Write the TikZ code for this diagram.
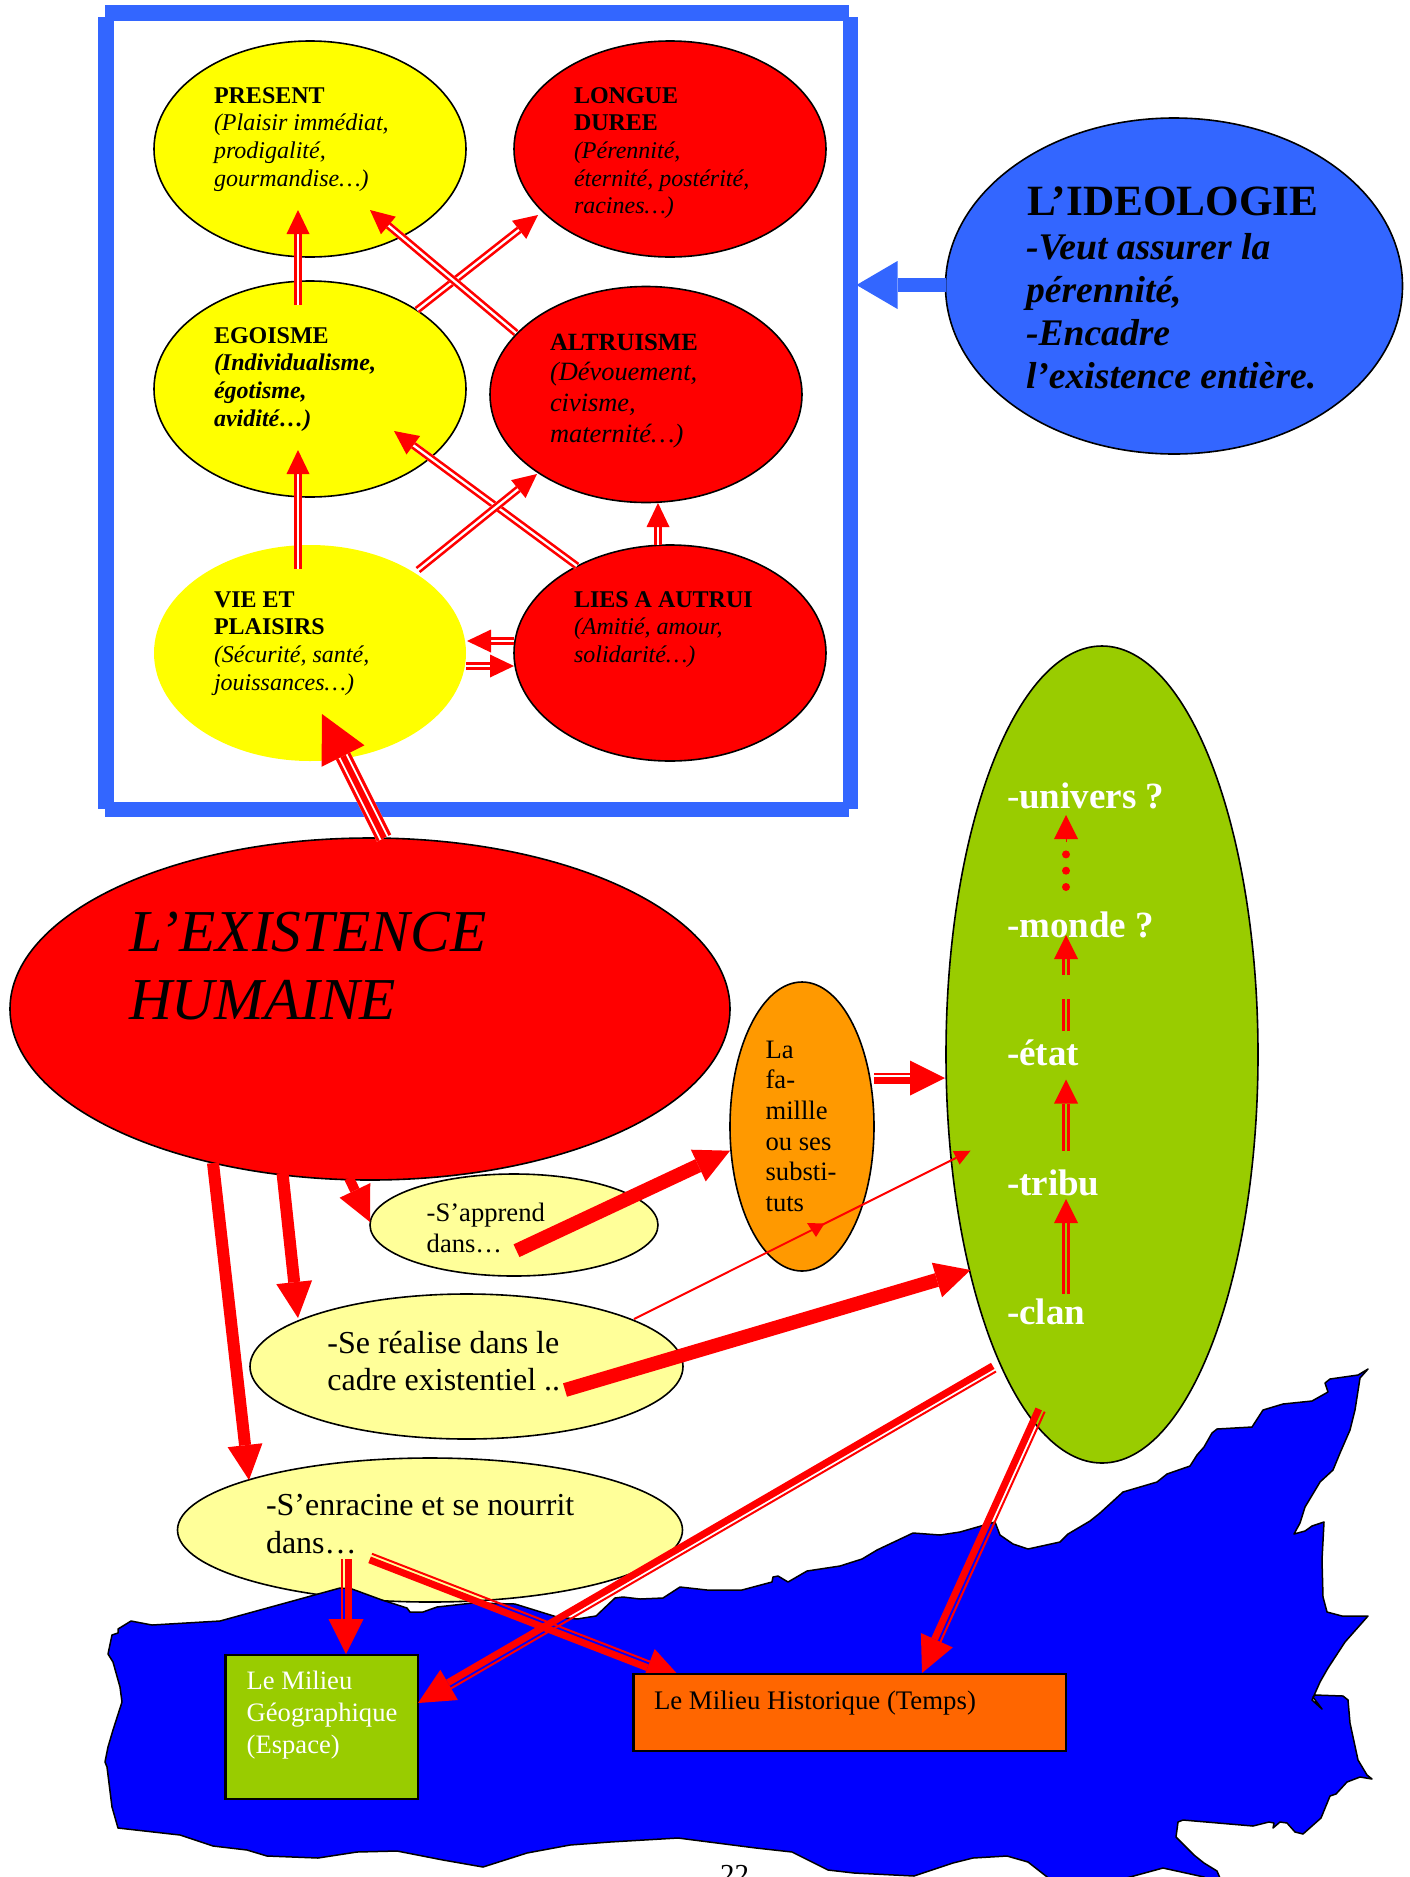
\documentclass[tikz,border=0pt]{standalone}
\usepackage{fontspec}
\setmainfont{Liberation Serif}
\usetikzlibrary{calc,shapes.geometric}
\pgfdeclarelayer{under}
\pgfdeclarelayer{over}
\pgfsetlayers{under,main,over}
\definecolor{fblue}{HTML}{3366FF}
\definecolor{lime}{HTML}{99CC00}
\definecolor{amber}{HTML}{FF9900}
\definecolor{pale}{HTML}{FFFF99}
\definecolor{burnt}{HTML}{FF6600}
\definecolor{yel}{HTML}{FFFF00}
\definecolor{rouge}{HTML}{FF0000}
\definecolor{bleu}{HTML}{0000FF}
\tikzset{
  oval/.style={shape=ellipse,draw=black,line width=1.6pt,inner sep=0pt,outer sep=0pt},
  bubble/.style={oval,minimum width=312pt,minimum height=216pt},
  bar/.style={shape=rectangle,fill=fblue,inner sep=0pt,outer sep=0pt},
  box/.style={shape=rectangle,draw=black,line width=2.6pt,inner sep=0pt,outer sep=0pt},
  lblbase/.style={anchor=north west,inner sep=0pt,outer sep=0pt,align=left},
}
% text block: [options]{name}{x}{first baseline}{size}{leading}{text}
\newcommand\lbl[7][]{\node[lblbase,font=\fontsize{#5}{#6}\selectfont,#1] (#2) at (#3,{#4-#5}) {\rule{0pt}{1em}#7};}
\newcommand\off[3]{([shift={(#2,#3)}]#1.center)}
\newcommand\offa[3]{([shift={(#2,#3)}]#1)}
\def\headcol{rouge}
% connector: {from}{to}{head length}{head half width}{\linespec}
\newcommand\conn[5]{%
  \path #1 coordinate (cA); \path #2 coordinate (cB);
  \coordinate (cC) at ($(cB)!#3!(cA)$);
  \foreach \dd/\ww/\cc in #5 {\draw[color=\cc,line width=\ww] ($(cA)!\dd!90:(cC)$) -- ($(cC)!\dd!-90:(cA)$);}
  \fill[\headcol] (cB) -- ($(cC)!#4!90:(cB)$) -- ($(cC)!#4!-90:(cB)$) -- cycle;
}
\def\twinW{0pt/7.6pt/white,2.55pt/2.5pt/rouge,-2.55pt/2.5pt/rouge}
\def\twinT{2.55pt/2.5pt/rouge,-2.55pt/2.5pt/rouge}
\def\thinthick{-4pt/2pt/rouge,2.5pt/7pt/rouge}
\def\thickthin{4pt/2pt/rouge,-2.5pt/7pt/rouge}
\def\triple{0pt/16pt/white,-6.5pt/3pt/rouge,6.5pt/3pt/rouge,0pt/6pt/rouge}
\def\hairl{0pt/0.1pt/rouge}
\def\thinl{0pt/2pt/rouge}
\def\widel{0pt/14pt/rouge}
\def\midl{0pt/12pt/rouge}
\def\shortl{0pt/10pt/rouge}
\def\ideol{0pt/14pt/fblue}
\begin{document}
\begin{tikzpicture}[x=1pt,y=-1pt]
\path[use as bounding box] (0,0) rectangle (1409,1877);
\fill[white] (0,0) rectangle (1409,1877);

% frame
\node[bar,minimum width=744pt,minimum height=16pt] (frameT) at (477,13) {};
\node[bar,minimum width=744pt,minimum height=15pt] (frameB) at (477,809.5) {};
\node[bar,minimum width=16pt,minimum height=792pt] (frameL) at (106,413) {};
\node[bar,minimum width=15pt,minimum height=792pt] (frameR) at (850.5,413) {};

% rooted ellipse sits under the map
\node[oval,fill=pale,minimum width=505pt,minimum height=144pt] (enr) at (430,1530) {};

% map
\draw[fill=bleu,draw=black,line width=1.5pt,line join=round]
 (108,1654)--(112,1635)--(118,1633)--(118,1629)--(131,1621)--(152,1625)--(220,1621)--(340,1588)--(352,1589)--(382,1600)--(407,1608)--(410,1612)--(423,1612)--(437,1607)--(473,1603)--(515,1604)--(557,1617)--(577,1619)--(596,1616)--(615,1598)--(623,1597)--(640,1599)--(663,1598)--(680,1587)--(707,1590)--(742,1590)--(772,1582)--(773,1577)--(778,1576)--(788,1582)--(807,1571)--(840,1566)--(862,1559)--(877,1550)--(913,1533)--(940,1535)--(960,1532)--(995,1522)--(1000,1535)--(1013,1544)--(1028,1549)--(1060,1542)--(1068,1534)--(1090,1521)--(1100,1513)--(1123,1492)--(1157,1482)--(1167,1474)--(1190,1466)--(1197,1455)--(1204,1447)--(1212,1433)--(1217,1429)--(1252,1427)--(1263,1410)--(1283,1404)--(1312,1401)--(1328,1392)--(1325,1383)--(1330,1379)--(1358,1375)--(1368,1369)--(1360,1378)--(1355,1410)--(1350,1430)--(1340,1453)--(1333,1470)--(1320,1482)--(1305,1507)--(1300,1523)--(1294,1534)--(1305,1531)--(1312,1526)--(1324,1522)--(1322,1560)--(1323,1597)--(1327,1612)--(1342,1616)--(1368,1616)--(1345,1642)--(1328,1668)--(1320,1682)--(1312,1700)--(1322,1709)--(1313,1697)--(1315,1695)--(1343,1696)--(1348,1700)--(1350,1723)--(1358,1760)--(1367,1775)--(1372,1779)--(1360,1777)--(1347,1782)--(1336,1794)--(1330,1796)--(1321,1818)--(1303,1834)--(1295,1832)--(1287,1823)--(1280,1822)--(1273,1828)--(1274,1823)--(1269,1822)--(1253,1826)--(1183,1820)--(1178,1822)--(1176,1837)--(1181,1842)--(1194,1855)--(1204,1863)--(1217,1871)--(1225,1890)--(1204,1877)--(1163,1868)--(1119,1880)--(1051,1880)--(1028,1862)--(1007,1856)--(973,1858)--(953,1863)--(914,1876)--(854,1873)--(828,1870)--(792,1852)--(756,1848)--(678,1838)--(610,1842)--(570,1845)--(527,1853)--(483,1867)--(443,1860)--(397,1851)--(357,1852)--(318,1858)--(267,1856)--(247,1850)--(213,1846)--(180,1835)--(118,1828)--(112,1807)--(107,1767)--(105,1762)--(108,1747)--(113,1730)--(122,1702)--(120,1687)--(113,1662)--cycle;

% upper bubbles
\node[bubble,fill=yel] (present) at (310,149) {};
\node[bubble,fill=rouge] (longue) at (670,149) {};
\node[bubble,fill=yel] (ego) at (310,389) {};
\node[bubble,fill=rouge] (alt) at (646,394.5) {};
\node[bubble,fill=yel,draw=none] (vie) at (310,653) {};
\node[bubble,fill=rouge] (lies) at (670,653) {};
% other shapes
\node[oval,fill=fblue,minimum width=457pt,minimum height=336pt] (ideo) at (1174,286) {};
\node[oval,fill=rouge,minimum width=720pt,minimum height=342pt] (exist) at (370,1009) {};
\node[oval,fill=lime,minimum width=312pt,minimum height=817pt] (green) at (1102,1054.5) {};
\node[oval,fill=amber,minimum width=144pt,minimum height=289pt] (fam) at (802,1126.5) {};
\node[oval,fill=pale,minimum width=288pt,minimum height=102pt] (app) at (514,1225) {};
\node[oval,fill=pale,minimum width=433pt,minimum height=145pt] (rea) at (466.5,1366.5) {};
\node[box,fill=lime,minimum width=192.5pt,minimum height=144pt] (geo) at (321.75,1727) {};
\begin{pgfonlayer}{over}
\node[box,fill=burnt,minimum width=432.5pt,minimum height=77pt] (hist) at (849.75,1712.5) {};
\lbl{histT}{654}{1709}{26.8}{30}{Le Milieu Historique (Temps)}
\end{pgfonlayer}

% texts
\lbl{presentT}{214}{103}{24}{27.7}{\textbf{PRESENT}\\\textit{(Plaisir immédiat,}\\\textit{prodigalité,}\\\textit{gourmandise…)}}
\lbl{longueT}{574}{103}{24}{27.7}{\textbf{LONGUE}\\\textbf{DUREE}\\\textit{(Pérennité,}\\\textit{éternité, postérité,}\\\textit{racines…)}}
\lbl{egoT}{214}{343}{24}{27.7}{\textbf{EGOISME}\\\textbf{\textit{(Individualisme,}}\\\textbf{\textit{égotisme,}}\\\textbf{\textit{avidité…)}}}
\lbl{altT}{550}{350}{26.4}{30.8}{{\fontsize{24.8}{30.8}\selectfont\textbf{ALTRUISME}}\\\textit{(Dévouement,}\\\textit{civisme,}\\\textit{maternité…)}}
\lbl{vieT}{214}{607}{24}{27.7}{\textbf{VIE ET}\\\textbf{PLAISIRS}\\\textit{(Sécurité, santé,}\\\textit{jouissances…)}}
\lbl{liesT}{574}{607}{24}{27.7}{\textbf{LIES A AUTRUI}\\\textit{(Amitié, amour,}\\\textit{solidarité…)}}
\lbl{ideoT}{1027}{215}{43.2}{46}{\textbf{L’IDEOLOGIE}}
\lbl{ideoB}{1026}{259}{37.6}{43}{\textbf{\textit{-Veut assurer la}}\\\textbf{\textit{pérennité,}}\\\textbf{\textit{-Encadre}}\\\textbf{\textit{l’existence entière.}}}
\lbl{existT}{129}{951}{59.4}{68}{\textit{L’EXISTENCE}\\\textit{HUMAINE}}
\lbl{famT}{765.6}{1058}{26.6}{30.7}{La\\fa-\\millle\\ou ses\\substi-\\tuts}
\lbl{appT}{426.7}{1221.2}{26.6}{31.5}{-S’apprend\\dans…}
\lbl{reaT}{327.4}{1353}{32}{37.5}{-Se réalise dans le\\cadre existentiel ..}
\lbl{enrT}{266}{1515.2}{32}{38}{-S’enracine et se nourrit\\dans…}
\lbl[text=white]{geoT}{246.7}{1689}{26.6}{32}{Le Milieu\\Géographique\\(Espace)}
\lbl[text=white]{universT}{1007}{808}{37}{40}{-\textbf{univers ?}}
\lbl[text=white]{mondeT}{1007}{937}{37}{40}{\textbf{-monde ?}}
\lbl[text=white]{etatT}{1007}{1065}{37}{40}{\textbf{-état}}
\lbl[text=white]{tribuT}{1007}{1195}{37}{40}{\textbf{-tribu}}
\lbl[text=white]{clanT}{1007}{1324}{37}{40}{\textbf{-clan}}
\lbl{pagenum}{720}{1884}{29}{32}{22}

% connectors of the frame group
\begin{pgfonlayer}{under}
\conn{\off{alt}{-12}{-107.5}}{\off{longue}{-36}{91}}{24pt}{11.5pt}{\twinW}
\end{pgfonlayer}
\conn{\off{ego}{-12}{-84}}{\off{present}{-12}{61}}{24pt}{11.5pt}{\twinW}
\conn{\off{vie}{-12}{-84}}{\off{ego}{-12}{61}}{24pt}{11.5pt}{\twinW}
\conn{\off{ego}{107}{-79}}{\off{longue}{-132}{66}}{24pt}{11.5pt}{\twinW}
\conn{\off{alt}{-130}{-61.5}}{\off{present}{60}{61}}{24pt}{11.5pt}{\twinW}
\conn{\off{lies}{-12}{-108}}{\off{alt}{12}{108.5}}{24pt}{11.5pt}{\twinW}
\conn{\off{lies}{-93}{-87}}{\off{ego}{84}{42}}{24pt}{11.5pt}{\twinW}
\conn{\off{vie}{108}{-83}}{\off{alt}{-109}{79.5}}{24pt}{11.5pt}{\twinW}
\conn{\off{lies}{-156}{-12}}{\off{vie}{157}{-12}}{24pt}{11.5pt}{\twinW}
\conn{\off{vie}{156}{13}}{\off{lies}{-156}{13}}{24pt}{11.5pt}{\twinW}
\conn{\off{exist}{14}{-171}}{\off{vie}{12}{61}}{47pt}{24pt}{\triple}
{\def\headcol{fblue}\conn{\off{ideo}{-228}{-1}}{\off{frameR}{6}{-128}}{41pt}{24pt}{\ideol}}

% connectors in the green ellipse
\conn{\offa{clanT.north west}{59}{7}}{\offa{tribuT.north west}{59}{41}}{24pt}{12pt}{\twinT}
\conn{\offa{tribuT.north west}{59}{-7.4}}{\offa{etatT.north west}{59}{51.5}}{24pt}{12pt}{\twinT}
\conn{\offa{mondeT.north west}{59}{75}}{\offa{mondeT.north west}{59}{35}}{24pt}{12pt}{\twinT}
\draw[rouge,line width=2.5pt] ([shift={(56.45,3)}]etatT.north west) -- ([shift={(56.45,-29)}]etatT.north west);
\draw[rouge,line width=2.5pt] ([shift={(61.55,3)}]etatT.north west) -- ([shift={(61.55,-29)}]etatT.north west);
\draw[rouge,line width=8pt,line cap=round,dash pattern=on 0pt off 16.3pt] ([shift={(59,-13)}]mondeT.north west) -- ([shift={(59,68)}]universT.north west);
\conn{\offa{universT.north west}{59}{71}}{\offa{universT.north west}{59}{44}}{24pt}{12pt}{\hairl}

% lower connectors
\conn{\off{exist}{-21}{169}}{\off{app}{-144}{-3}}{35pt}{17pt}{\shortl}
\conn{\off{exist}{-87.5}{164}}{\off{rea}{-168.5}{-48.5}}{36pt}{18pt}{\midl}
\conn{\off{exist}{-157}{154}}{\off{enr}{-181}{-50}}{35pt}{17.5pt}{\midl}
\conn{\off{app}{2.5}{25.7}}{\off{fam}{-72}{24.2}}{35pt}{17.5pt}{\widel}
\conn{\off{rea}{98.5}{23.5}}{\off{green}{-131.5}{215.5}}{35pt}{18pt}{\widel}
\conn{\off{rea}{167.5}{-47.5}}{\off{green}{-131.5}{96.2}}{16pt}{7.5pt}{\thinl}
\fill[rouge] \off{fam}{5}{96.5} -- \off{fam}{22.5}{97} -- \off{fam}{14}{110.5} -- cycle;
\conn{\off{fam}{72}{-48.5}}{\off{green}{-157}{23.5}}{35pt}{17.5pt}{\thickthin}
\conn{\off{enr}{-84}{29}}{\off{geo}{24.25}{-73}}{35pt}{17.5pt}{\thinthick}
\conn{\off{enr}{-59.5}{27.5}}{\off{hist}{-168.75}{-34.5}}{35pt}{17.5pt}{\thickthin}
\conn{\off{green}{-108}{313.5}}{\off{geo}{96.25}{-24}}{36pt}{17.5pt}{\thickthin}
\conn{\off{green}{-61}{355.5}}{\off{hist}{72.25}{-39.5}}{36pt}{17.5pt}{\thickthin}
\end{tikzpicture}
\end{document}
